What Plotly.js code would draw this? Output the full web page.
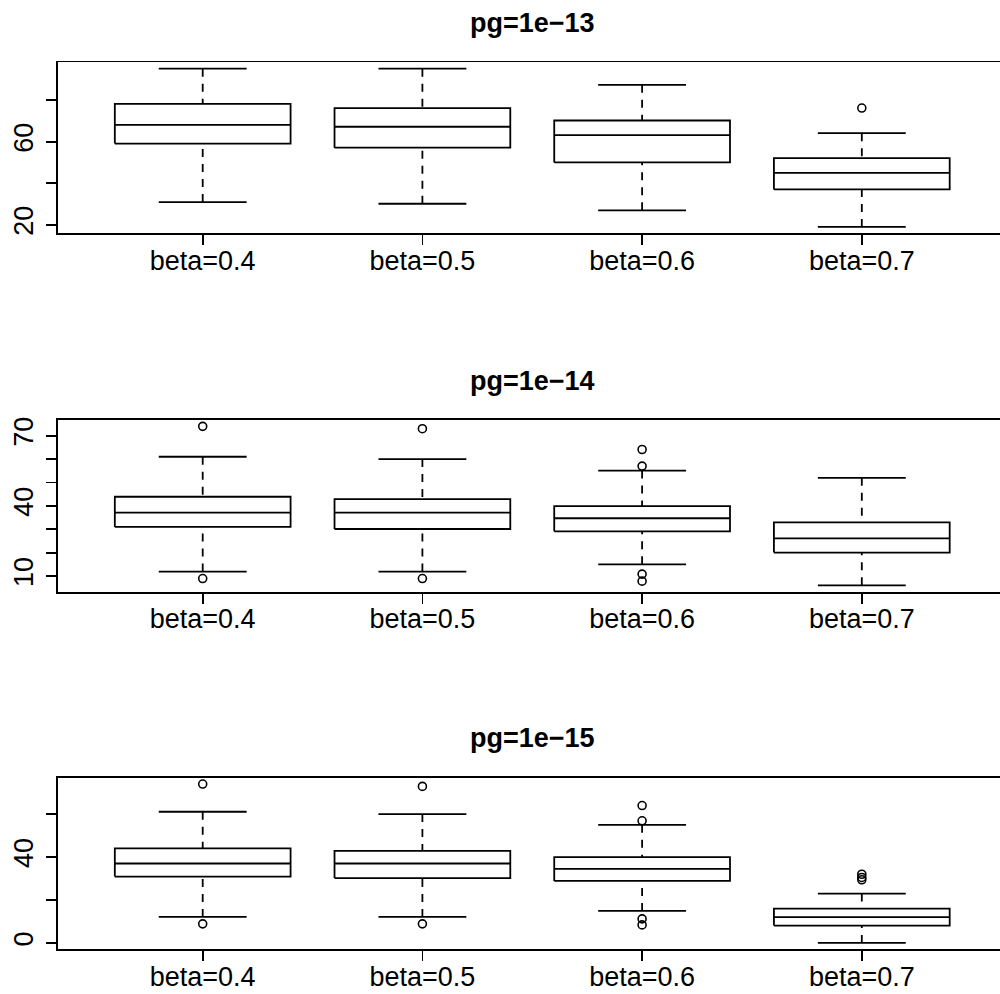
<!DOCTYPE html>
<html>
<head>
<meta charset="utf-8">
<script src="https://cdn.plot.ly/plotly-3.0.1.min.js"></script>
<style>html,body{margin:0;padding:0;background:#fff;}#chart{width:1000px;height:994px;}</style>
</head>
<body>
<div id="chart"></div>
<script>
// ---- data ----
const categories = ['beta=0.4', 'beta=0.5', 'beta=0.6', 'beta=0.7'];
const panelTitles = ['pg=1e\u221213', 'pg=1e\u221214', 'pg=1e\u221215'];

// pg=1e-13
const p13_lo  = [30.9, 30.1, 26.9, 18.9];
const p13_q1  = [59.1, 57.1, 50.0, 37.0];
const p13_med = [68.1, 67.2, 63.2, 45.0];
const p13_q3  = [78.2, 76.2, 70.2, 52.1];
const p13_hi  = [95.2, 95.2, 87.4, 64.1];
const p13_out = [[], [], [], [76.2]];

// pg=1e-14
const p14_lo  = [11.9, 11.9, 15.0, 6.0];
const p14_q1  = [31.0, 30.1, 29.1, 20.0];
const p14_med = [37.1, 37.1, 34.7, 26.1];
const p14_q3  = [43.9, 42.9, 39.9, 32.9];
const p14_hi  = [61.0, 60.0, 55.1, 52.0];
const p14_out = [[74.0, 8.9], [73.0, 8.9], [64.1, 57.0, 10.8, 7.8], []];

// pg=1e-15
const p15_lo  = [12.1, 12.1, 14.9, 0.0];
const p15_q1  = [30.9, 30.2, 28.9, 8.1];
const p15_med = [37.0, 37.0, 34.5, 12.0];
const p15_q3  = [44.0, 42.9, 40.0, 16.0];
const p15_hi  = [61.1, 60.0, 55.0, 23.0];
const p15_out = [[74.0, 8.9], [72.9, 8.9], [64.0, 56.9, 11.2, 8.4], [32.0, 30.5, 29.4]];

// y tick values / labels per panel
const p13_tickvals = [20, 40, 60, 80];
const p13_ticktext = ['20', '', '60', ''];
const p14_tickvals = [10, 20, 30, 40, 50, 60, 70];
const p14_ticktext = ['10', '', '', '40', '', '', '70'];
const p15_tickvals = [0, 20, 40, 60];
const p15_ticktext = ['0', '', '40', ''];

// ---- styling ----
const FONT = 'Liberation Sans, Arial, Helvetica, sans-serif';
const LW = 1.8;
const BOXHALF = 0.4, CAPHALF = 0.2;

const panels = [
  {lo: p13_lo, q1: p13_q1, med: p13_med, q3: p13_q3, hi: p13_hi, out: p13_out, tv: p13_tickvals, tt: p13_ticktext},
  {lo: p14_lo, q1: p14_q1, med: p14_med, q3: p14_q3, hi: p14_hi, out: p14_out, tv: p14_tickvals, tt: p14_ticktext},
  {lo: p15_lo, q1: p15_q1, med: p15_med, q3: p15_q3, hi: p15_hi, out: p15_out, tv: p15_tickvals, tt: p15_ticktext}
];

// panel plot areas (pixels from the top of the page)
const H = 994;
const panelTopPx = [62.3, 420.0, 777.7];
const panelBotPx = [233.3, 591.7, 949.3];
const titleCenterPx = [23.0, 380.7, 738.4];

const data = [];
const layout = {
  width: 1000, height: 994,
  margin: {l: 0, r: 0, t: 0, b: 0},
  paper_bgcolor: '#fff', plot_bgcolor: '#fff',
  showlegend: false,
  font: {family: FONT, color: '#000', size: 27},
  annotations: []
};

panels.forEach((p, k) => {
  const sfx = k === 0 ? '' : String(k + 1);
  const xa = 'x' + sfx, ya = 'y' + sfx;
  const pos = categories.map((c, i) => i + 1);

  const bx = [], by = [], mx = [], my = [], wx = [], wy = [], cx = [], cy = [], ox = [], oy = [];
  pos.forEach((c, i) => {
    bx.push(c - BOXHALF, c + BOXHALF, c + BOXHALF, c - BOXHALF, c - BOXHALF, null);
    by.push(p.q1[i], p.q1[i], p.q3[i], p.q3[i], p.q1[i], null);
    mx.push(c - BOXHALF, c + BOXHALF, null);
    my.push(p.med[i], p.med[i], null);
    wx.push(c, c, null, c, c, null);
    wy.push(p.hi[i], p.q3[i], null, p.lo[i], p.q1[i], null);
    cx.push(c - CAPHALF, c + CAPHALF, null, c - CAPHALF, c + CAPHALF, null);
    cy.push(p.hi[i], p.hi[i], null, p.lo[i], p.lo[i], null);
    p.out[i].forEach(v => { ox.push(c); oy.push(v); });
  });

  data.push({type: 'scatter', mode: 'lines', x: wx, y: wy, xaxis: xa, yaxis: ya,
             line: {color: '#000', width: LW, dash: '8px,7px'}, hoverinfo: 'skip'});
  data.push({type: 'scatter', mode: 'lines', x: cx, y: cy, xaxis: xa, yaxis: ya,
             line: {color: '#000', width: LW}, hoverinfo: 'skip'});
  data.push({type: 'scatter', mode: 'lines', x: bx, y: by, xaxis: xa, yaxis: ya,
             line: {color: '#000', width: LW}, hoverinfo: 'skip'});
  data.push({type: 'scatter', mode: 'lines', x: mx, y: my, xaxis: xa, yaxis: ya,
             line: {color: '#000', width: LW}, hoverinfo: 'skip'});
  data.push({type: 'scatter', mode: 'markers', x: ox, y: oy, xaxis: xa, yaxis: ya,
             marker: {symbol: 'circle-open', size: 8, color: '#000', line: {width: 1.6, color: '#000'}},
             hoverinfo: 'skip'});

  // y range: data extremes extended by 4% (as R does)
  const allV = p.lo.concat(p.hi, ...p.out);
  const mn = Math.min(...allV), mxv = Math.max(...allV);
  const pad = 0.04 * (mxv - mn);

  const dom = [1 - panelBotPx[k] / H, 1 - panelTopPx[k] / H];

  layout['xaxis' + sfx] = {
    domain: [0.0577, 1], anchor: ya,
    range: [0.34, 4.629],
    tickvals: pos, ticktext: categories,
    ticks: 'outside', ticklen: 10, tickwidth: LW, tickcolor: '#000',
    ticklabelstandoff: -8,
    showline: true, mirror: true, linecolor: '#000', linewidth: LW,
    showgrid: false, zeroline: false,
    tickfont: {family: FONT, size: 27, color: '#000'},
    fixedrange: true
  };
  layout['yaxis' + sfx] = {
    domain: dom, anchor: xa,
    range: [mn - pad, mxv + pad],
    tickvals: p.tv, ticktext: p.tt, tickangle: -90,
    ticks: 'outside', ticklen: 10, tickwidth: LW, tickcolor: '#000',
    ticklabelstandoff: 2,
    showline: true, mirror: false, linecolor: '#000', linewidth: LW,
    showgrid: false, zeroline: false,
    tickfont: {family: FONT, size: 27, color: '#000'},
    fixedrange: true
  };

  layout.annotations.push({
    text: '<b>' + panelTitles[k] + '</b>',
    xref: 'paper', yref: 'paper',
    x: 0.532, y: 1 - titleCenterPx[k] / H,
    xanchor: 'center', yanchor: 'middle',
    showarrow: false,
    font: {family: FONT, size: 27, color: '#000'}
  });
});

Plotly.newPlot('chart', data, layout, {staticPlot: true, displayModeBar: false});
</script>
</body>
</html>
